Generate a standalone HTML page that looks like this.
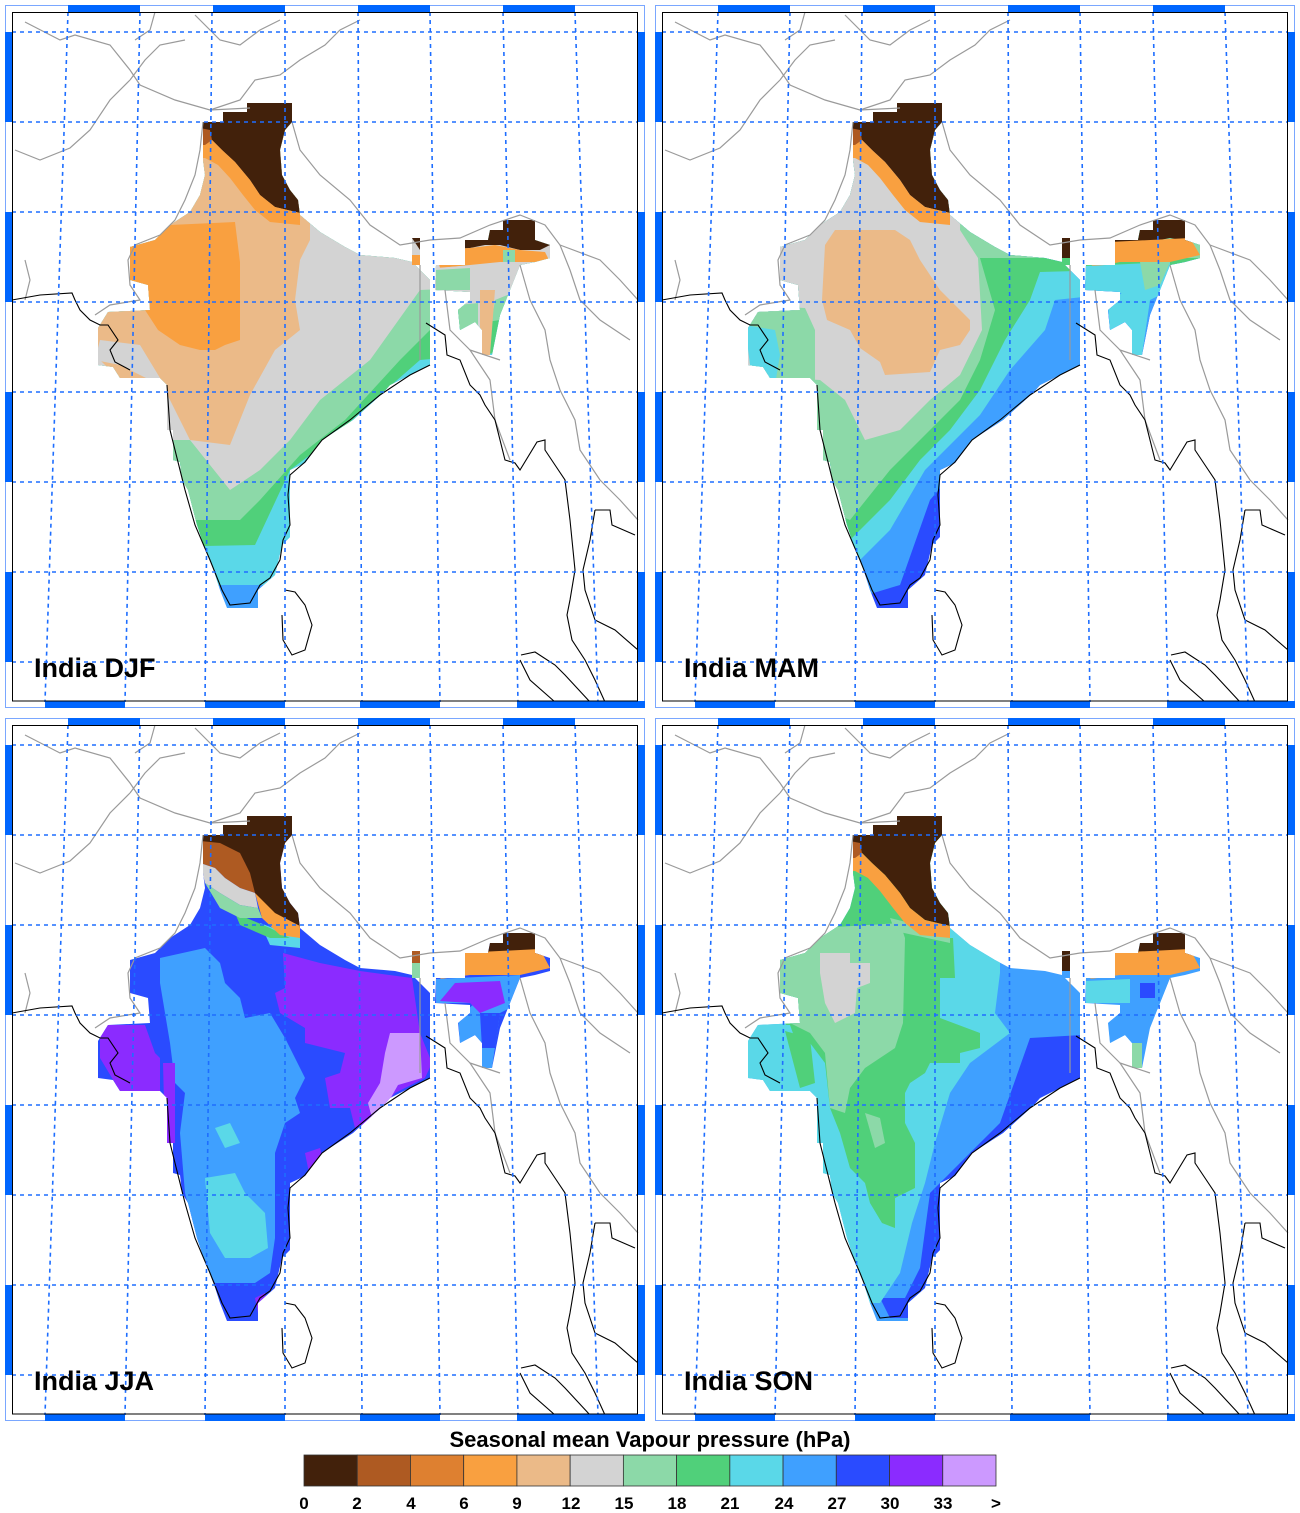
<!DOCTYPE html>
<html><head><meta charset="utf-8"><style>
html,body{margin:0;padding:0;background:#fff}
svg{display:block}
.lbl{font-family:"Liberation Sans",sans-serif;font-weight:bold;font-size:27px;fill:#000}
.cb{font-family:"Liberation Sans",sans-serif;font-weight:bold;font-size:17px;fill:#000}
</style></head><body>
<svg id="s" width="1300" height="1513" viewBox="0 0 1300 1513" xmlns="http://www.w3.org/2000/svg">
<rect width="1300" height="1513" fill="#fff"/>
<defs>
<clipPath id="ind" clipPathUnits="userSpaceOnUse">
<path d="M203,122 L223,122 L223,112 L247,112 L247,103 L292,103 L292,122 L285,130 L280,150 L282,175 L290,190 L298,200 L300,215 L320,232 L345,247 L360,255 L395,258 L412,262 L420,270 L430,280 L430,365 L410,375 L390,385 L383,393 L353,420 L322,440 L305,463 L290,470 L290,537 L282,545 L275,575 L258,590 L258,608 L227,608 L220,590 L212,565 L203,543 L197,525 L188,490 L182,480 L180,462 L173,460 L173,430 L167,430 L167,385 L160,378 L120,378 L113,367 L98,365 L98,328 L108,312 L150,310 L148,285 L130,280 L130,247 L155,240 L170,225 L190,212 L200,195 L205,175 L203,160 Z"/>
<path d="M412,238 L420,238 L420,265 L412,265 Z"/>
<path d="M465,240 L488,240 L490,230 L503,230 L503,220 L535,220 L535,240 L550,245 L550,258 L535,262 L520,265 L510,290 L500,315 L492,355 L482,355 L482,330 L475,322 L460,330 L458,310 L470,300 L470,292 L435,290 L436,265 L465,265 Z"/>
</clipPath>
</defs>
<g id="root"></g>
<text class="lbl" x="34" y="677">India DJF</text>
<text class="lbl" x="684" y="677">India MAM</text>
<text class="lbl" x="34" y="1390">India JJA</text>
<text class="lbl" x="684" y="1390">India SON</text>
<text x="650" y="1447" text-anchor="middle" style="font-family:'Liberation Sans',sans-serif;font-weight:bold;font-size:22px">Seasonal mean Vapour pressure (hPa)</text>
<g id="cbar"></g>
<g class="cb" text-anchor="middle">
<text x="304" y="1509">0</text><text x="357" y="1509">2</text><text x="411" y="1509">4</text><text x="464" y="1509">6</text><text x="517" y="1509">9</text><text x="571" y="1509">12</text><text x="624" y="1509">15</text><text x="677" y="1509">18</text><text x="730" y="1509">21</text><text x="784" y="1509">24</text><text x="837" y="1509">27</text><text x="890" y="1509">30</text><text x="943" y="1509">33</text><text x="996" y="1509">&gt;</text>
</g>
</svg>
<script>
var NS="http://www.w3.org/2000/svg";
function el(p,t,a){var e=document.createElementNS(NS,t);for(var k in a)e.setAttribute(k,a[k]);p.appendChild(e);return e;}
var C={br:"#42210B",br2:"#AE5A22",or2:"#DE8030",or:"#F9A040",tan:"#EBBA88",gr:"#D3D3D3",lg:"#8CD9A8",g:"#50D07A",cy:"#5AD8E8",lb:"#3FA0FF",db:"#2A4BFF",pu:"#8B2BFF",lp:"#CC99FF"};
function above(pts){return "0,0 "+pts+" 640,0";}
var capL=[
 ["br","200,100 300,100 300,213 275,207 260,195 250,180 235,162 222,150 212,140 200,135"],
 ["or","200,135 212,140 222,150 235,162 250,180 260,195 275,207 300,213 300,225 270,222 255,210 243,195 230,178 218,165 205,158 200,158"],
 ["br2","200,128 210,130 212,140 205,145 200,145"]
];
var S={
DJF:[["lb","P"],["cy",above("0,585 640,585")],["g",above("0,550 255,545 290,470 330,440 380,395 420,360 640,340")],
 ["lg",above("0,520 240,520 260,500 300,455 345,420 400,360 430,330 640,300")],
 ["gr",above("0,440 190,440 230,490 260,470 290,440 320,400 370,360 420,290 640,280")],
 ["tan","0,0 310,0 310,240 300,260 295,300 300,330 275,350 250,395 240,420 230,445 190,440 160,380 120,380 100,360 0,360"],
 ["gr","95,360 120,365 150,380 160,378 140,345 100,340"],
 ["or","130,245 170,225 235,222 240,262 240,340 225,345 215,350 200,350 180,345 158,330 145,310 130,285"],
 ["br","400,220 560,210 560,240 540,250 520,250 500,245 485,245 470,248 440,250 420,250"],
 ["or","435,250 470,248 495,245 520,250 545,252 550,262 500,262 470,265 440,268"],
 ["gr","435,268 520,262 520,290 495,300 490,330 470,330 455,295 435,290"],
 ["lg","436,270 470,268 470,290 436,290"],["lg","458,305 478,303 478,330 460,330"],
 ["tan","480,290 495,290 490,355 480,355"],["lg","503,250 515,250 515,262 503,262"],
 ["or","412,255 420,255 420,265 412,265"]],
MAM:[["db","P"],["lb",above("0,600 200,600 250,585 280,500 310,465 345,430 380,405 410,375 640,350")],
 ["cy",above("0,565 200,570 240,530 275,470 305,440 330,415 360,370 395,330 405,300 640,275")],
 ["g",above("0,540 200,540 240,500 270,460 300,430 330,390 355,340 380,300 390,272 640,265")],
 ["lg",above("0,520 150,500 200,520 240,470 270,440 310,400 330,360 345,310 330,258 640,258")],
 ["gr","0,0 315,0 310,230 328,258 332,330 310,375 280,400 250,430 215,440 195,400 170,380 0,370"],
 ["tan","175,245 185,230 245,230 260,240 270,260 290,290 300,300 320,320 320,330 310,345 290,350 280,372 235,375 230,362 210,348 200,330 177,320 172,300"],
 ["lg","95,305 155,308 165,330 165,385 130,388 100,365"],["cy","95,325 125,330 130,355 125,385 100,365"],
 ["br","420,220 560,210 560,238 540,242 520,238 500,242 480,245 420,248"],
 ["or","460,242 540,238 550,255 520,262 470,262 440,268"],
 ["cy","436,266 520,262 520,290 500,300 492,355 482,355 478,325 460,330 458,305 475,290 436,290"],
 ["lg","490,262 520,262 510,285 495,290"],["br","412,238 420,238 420,258 412,258"]],
JJA:[["db","P"],
 ["lb","160,245 205,235 220,250 225,270 240,285 245,305 270,300 285,325 295,345 305,365 295,385 300,400 285,410 275,440 275,480 275,525 270,560 255,570 215,570 200,540 185,480 180,420 185,380 175,370 170,330 165,300 160,270"],
 ["cy","205,465 235,460 245,480 265,500 268,535 250,545 225,545 210,520"],["cy","215,415 230,410 240,430 225,435"],
 ["pu","283,240 320,250 360,258 412,265 420,320 432,350 425,365 395,380 370,410 355,415 350,395 330,395 325,365 340,360 345,340 305,330 305,315 280,300 275,280 285,275"],
 ["lp","390,320 420,320 422,365 398,372 385,395 372,405 368,390 380,370 385,340"],
 ["pu","100,312 145,312 155,340 160,345 160,378 140,395 125,395 115,370 100,345"],["pu","163,350 175,350 175,430 165,430"],
 ["pu","305,440 320,435 325,455 310,465"],["pu","255,585 265,580 268,600 258,600"],
 ["cy","260,210 300,225 300,235 270,232"],["g","235,200 270,215 290,225 270,225 240,212"],
 ["br","200,100 300,100 300,215 275,207 260,190 250,170 245,150 235,140 220,135 200,135"],
 ["br2","200,128 220,130 240,140 250,160 255,180 240,175 225,165 215,155 200,150"],
 ["gr","200,150 215,155 225,165 240,175 255,180 258,195 240,192 220,180 205,170"],
 ["lg","205,170 220,180 240,192 258,195 262,205 240,205 220,195"],
 ["or","255,180 275,200 300,213 300,225 280,222 262,205"],
 ["br","420,220 560,210 560,240 540,242 520,238 500,242 420,248"],
 ["or","460,240 540,236 550,255 520,262 470,262 440,266"],
 ["lb","436,266 520,262 520,290 500,300 492,355 482,355 478,325 460,330 458,305 475,290 436,290"],
 ["pu","455,270 500,268 505,290 480,300 470,290 440,288"],["db","480,300 500,300 495,335 482,335"],
 ["lg","412,250 420,250 420,265 412,265"],["br2","412,238 420,238 420,250 412,250"]],
SON:[["lb","P"],
 ["db","380,325 432,322 432,368 400,380 360,420 320,460 300,480 295,540 285,580 270,605 240,605 230,585 255,585 270,555 280,480 310,450 350,410"],
 ["cy","0,0 350,0 350,260 345,300 360,320 320,350 300,380 285,430 275,470 262,510 250,560 230,590 0,590"],
 ["g","200,100 300,100 300,225 303,225 305,265 290,265 290,305 330,320 330,335 310,340 310,350 280,350 275,360 260,370 255,380 255,410 265,430 265,475 245,485 245,515 232,510 220,490 215,470 200,455 190,420 180,395 175,350 160,330 140,320 130,300 130,245 170,215 195,200"],
 ["lg","130,245 170,215 250,210 255,225 253,310 245,335 230,345 215,355 200,375 195,400 180,395 175,340 160,320 140,310 130,290"],
 ["lg","215,400 230,405 235,430 225,435"],
 ["gr","170,240 200,240 200,250 220,250 220,270 207,275 205,300 185,310 175,290 170,260"],
 ["cy","98,312 140,312 150,340 150,380 130,385 110,378 100,350"],["g","135,318 160,325 165,370 150,375"],
 ["lg","240,205 300,220 300,230 245,218"],
 ["br","420,220 560,210 560,240 540,242 520,238 500,242 420,248"],
 ["or","460,240 540,236 550,255 520,262 470,262 440,266"],
 ["lb","436,266 520,262 520,290 500,300 492,355 482,355 478,325 460,330 458,305 475,290 436,290"],
 ["cy","436,268 480,266 480,290 436,290"],["db","490,270 505,270 505,285 490,285"],["lg","480,330 492,330 492,355 482,355"],
 ["br","412,238 420,238 420,258 412,258"]]
};
["DJF","MAM","SON"].forEach(function(k){S[k]=S[k].concat(capL);});
var grayB=[
 "25,22 60,40 75,35 110,45 130,70 140,85 175,100 210,110 250,108",
 "15,150 40,160 70,148 90,130 110,100 130,80",
 "130,80 145,60 160,45 185,40",
 "155,12 150,30 135,40",
 "210,110 240,100 255,80 280,75 300,60 325,45 340,30 360,20",
 "195,15 220,40 240,45 260,30 280,20",
 "203,122 200,150 195,175 185,200 175,220 160,235 135,245 128,260 130,285 140,300 110,305 95,315",
 "292,122 300,150 320,175 350,200 370,225 400,245 430,240 460,238 490,225 520,215 545,225 560,245 570,270 580,300 600,320 630,340",
 "420,265 420,360","445,290 450,330 470,350 490,380 495,420 510,460",
 "520,265 530,300 545,330 550,360 560,390 575,420 580,450 600,480 620,500 638,520",
 "560,245 600,260 620,280 638,300","470,350 500,360",
 "25,260 30,280 25,300"];
var coast=[
 "12,300 40,295 72,293 75,300 80,310 90,320 100,325 108,325 118,340 110,350 115,362 130,370",
 "167,385 170,430 178,462 185,490 195,525 210,560 222,590 230,605 250,603 260,585 270,578 280,560 283,540 290,525 288,495 290,475 305,462 322,440 350,420 380,395 410,375 430,365",
 "426,323 445,335 447,355 460,360 470,385 480,395 485,405 495,420 505,460 515,463 520,470 537,442 545,440 545,450 555,465 565,480 570,520 572,540 575,570 570,600 567,615 572,640 585,660 595,680 605,702",
 "595,510 610,510 612,525 635,535","595,510 590,540 583,570 585,590 595,620 615,630 638,650",
 "521,655 535,652 555,665 565,675 590,702","520,660 530,680 555,702",
 "285,590 295,592 305,605 312,625 305,650 292,655 283,640 282,615"];
function panel(ox,oy,key){
 var g=el(document.getElementById("root"),"g",{transform:"translate("+ox+","+oy+")"});
 var cg=el(g,"g",{"clip-path":"url(#ind)"});
 S[key].forEach(function(L){
  if(L[1]=="P") el(cg,"rect",{x:0,y:0,width:640,height:720,fill:C[L[0]]});
  else el(cg,"polygon",{points:L[1],fill:C[L[0]]});
 });
 grayB.forEach(function(p){el(g,"polyline",{points:p,fill:"none",stroke:"#9a9a9a","stroke-width":1.2});});
 coast.forEach(function(p){el(g,"polyline",{points:p,fill:"none",stroke:"#000","stroke-width":1.1});});
 var gd={stroke:"#1E6EFF","stroke-width":1.6,"stroke-dasharray":"4,4",fill:"none"};
 [32,122,212,302,392,482,572,662].forEach(function(y){var a=Object.assign({x1:12,x2:638,y1:y,y2:y},gd);el(g,"line",a);});
 [[68,45],[140,125],[212,205],[285,285],[358,362],[430,440],[503,518],[575,598]].forEach(function(v){var a=Object.assign({x1:v[0],x2:v[1],y1:12,y2:702},gd);el(g,"line",a);});
 el(g,"rect",{x:5.5,y:5.5,width:639,height:702,fill:"none",stroke:"#7aa7ff","stroke-width":1});
 var B="#0066FF";
 [[68,140],[213,285],[358,430],[503,575]].forEach(function(s){el(g,"rect",{x:s[0],y:5,width:s[1]-s[0],height:7,fill:B});});
 [[45,125],[205,285],[360,440],[517,645]].forEach(function(s){el(g,"rect",{x:s[0],y:701,width:s[1]-s[0],height:7,fill:B});});
 [[32,122],[212,302],[392,482],[572,662]].forEach(function(s){el(g,"rect",{x:5,y:s[0],width:7,height:s[1]-s[0],fill:B});el(g,"rect",{x:638,y:s[0],width:7,height:s[1]-s[0],fill:B});});
 el(g,"rect",{x:12.5,y:12.5,width:625,height:688.5,fill:"none",stroke:"#000","stroke-width":1});
}
panel(0,0,"DJF");panel(650,0,"MAM");panel(0,713,"JJA");panel(650,713,"SON");
var cols=["br","br2","or2","or","tan","gr","lg","g","cy","lb","db","pu","lp"];
var cb=document.getElementById("cbar");
cols.forEach(function(c,i){el(cb,"rect",{x:304+i*53.23,y:1455,width:53.23,height:31,fill:C[c],stroke:"#333","stroke-width":0.8});});
</script>
</body></html>
